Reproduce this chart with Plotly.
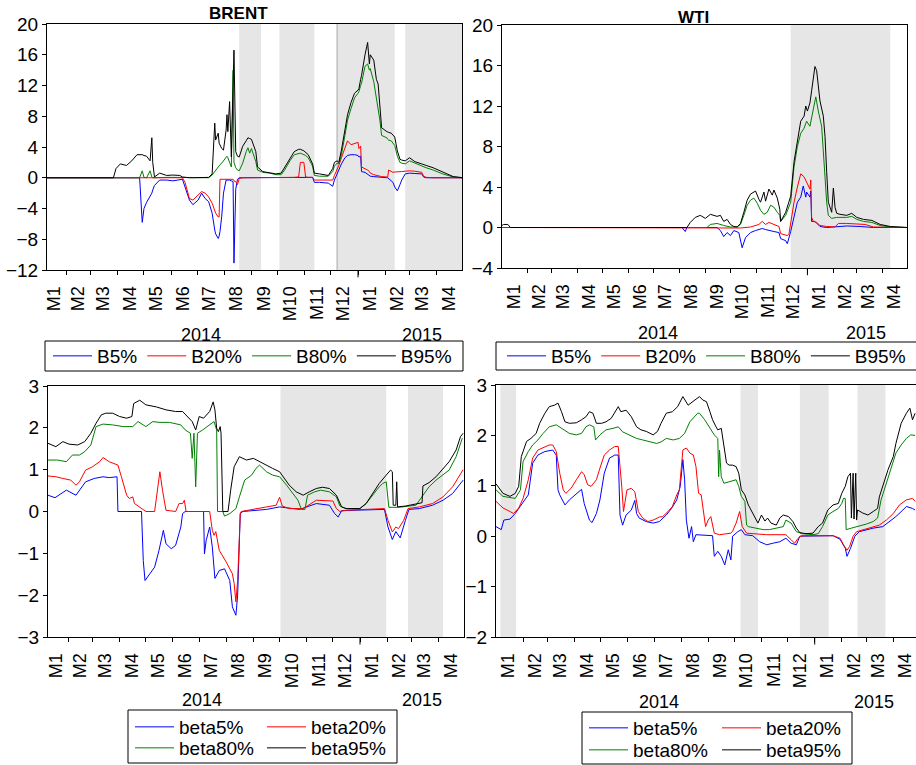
import plotly.graph_objects as go

FONT = "Liberation Sans, Arial, Helvetica, sans-serif"
W, H = 916, 765

# ---------------- tick labels ----------------
MONTH_LABELS = ["M1", "M2", "M3", "M4", "M5", "M6", "M7", "M8", "M9", "M10", "M11", "M12",
                "M1", "M2", "M3", "M4"]
LABEL_DATES = ["2014-01-15", "2014-02-15", "2014-03-15", "2014-04-15", "2014-05-15", "2014-06-15",
               "2014-07-15", "2014-08-15", "2014-09-15", "2014-10-15", "2014-11-15", "2014-12-15",
               "2015-01-15", "2015-02-15", "2015-03-15", "2015-04-15"]
MONTH_STARTS = ["2014-02-01", "2014-03-01", "2014-04-01", "2014-05-01", "2014-06-01", "2014-07-01",
                "2014-08-01", "2014-09-01", "2014-10-01", "2014-11-01", "2014-12-01", "2015-01-01",
                "2015-02-01", "2015-03-01", "2015-04-01", "2015-05-01"]
YEARS = ["2014", "2015"]

# ---------------- BRENT (top-left) ----------------
BRENT_DATES = [
    "2014-01-10", "2014-03-27", "2014-03-30", "2014-04-04", "2014-04-11", "2014-04-17", "2014-04-23", "2014-04-26", "2014-04-29", "2014-05-01",
    "2014-05-04", "2014-05-08", "2014-05-10", "2014-05-11", "2014-05-13", "2014-05-19", "2014-05-27", "2014-06-03", "2014-06-11", "2014-06-14",
    "2014-06-17", "2014-06-22", "2014-06-26", "2014-07-02", "2014-07-06", "2014-07-10", "2014-07-14", "2014-07-18", "2014-07-21", "2014-07-22",
    "2014-07-25", "2014-07-26", "2014-07-27", "2014-07-29", "2014-07-31", "2014-08-03", "2014-08-04", "2014-08-05", "2014-08-07", "2014-08-09",
    "2014-08-11", "2014-08-12", "2014-08-14", "2014-08-16", "2014-08-18", "2014-08-22", "2014-08-26", "2014-08-28", "2014-08-30", "2014-09-01",
    "2014-09-06", "2014-09-08", "2014-09-14", "2014-09-22", "2014-09-29", "2014-10-05", "2014-10-09", "2014-10-15", "2014-10-20", "2014-10-25",
    "2014-10-27", "2014-10-31", "2014-11-02", "2014-11-05", "2014-11-10", "2014-11-12", "2014-11-18", "2014-11-28", "2014-12-03", "2014-12-05",
    "2014-12-08", "2014-12-10", "2014-12-13", "2014-12-17", "2014-12-20", "2014-12-24", "2014-12-28", "2015-01-01", "2015-01-02", "2015-01-04",
    "2015-01-05", "2015-01-09", "2015-01-12", "2015-01-14", "2015-01-15", "2015-01-19", "2015-01-22", "2015-01-24", "2015-01-26", "2015-01-28",
    "2015-02-03", "2015-02-04", "2015-02-05", "2015-02-08", "2015-02-10", "2015-02-12", "2015-02-15", "2015-02-18", "2015-02-20", "2015-02-24",
    "2015-03-01", "2015-03-07", "2015-03-15", "2015-03-17", "2015-03-20", "2015-03-28", "2015-04-08", "2015-04-20", "2015-04-30"]
BRENT_B5 = [
    0, 0, 0, 0, 0, 0, 0, 0, -5.8, -4.0,
    -3.2, -2.4, -2.0, -1.6, -1.0, -0.3, -0.3, -0.4, -0.3, -0.2,
    -1.2, -2.9, -3.5, -2.9, -2.0, -2.7, -3.1, -4.6, -6.8, -7.3,
    -7.9, -7.6, -7.0, -5.0, -2.0, -0.3, -0.3, -0.3, -0.3, -0.4,
    -0.5, -11.1, -1.5, -0.2, 0, 0, 0, 0, 0, 0,
    0, 0, 0, 0, 0, 0, 0, 0, 0.05, 0.05,
    0.05, 0.05, 0.05, 0.05, 0.05, -0.6, -0.6, -0.7, -1.1, -0.3,
    0.5, 1.0, 1.8, 2.6, 2.9, 3.0, 3.0, 2.9, 2.7, 2.8,
    0.8, 0.7, 0.5, 0.35, 0.2, 0.15, 0.1, 0.1, 0.05, 0.05,
    0, 0, -0.1, -0.3, -0.6, -1.2, -1.7, -0.9, -0.3, 0.5,
    0.6, 0.55, 0.5, 0.1, 0, 0, 0, 0, 0]
BRENT_B20 = [
    0, 0, 0, 0, 0, 0, 0, 0, 0, 0,
    0, 0, 0, 0, 0, 0, 0, 0, 0, 0,
    -0.6, -2.7, -2.9, -2.3, -1.8, -2.0, -2.5, -3.3, -4.4, -4.6,
    -5.1, -5.1, -0.2, -0.2, -0.2, -0.2, -0.2, -0.2, -0.2, -0.2,
    -0.2, -0.4, -0.5, -0.9, -0.1, 0, 0, 0, 0, 0,
    0, 0, 0, 0, 0.02, 0.02, 0.02, 0.02, 0.05, 0.1,
    2.0, 2.0, 0.1, 0.05, 0.05, -0.3, -0.3, -0.3, -0.3, 0.3,
    1.0, 1.6, 2.6, 4.0, 4.8, 4.3, 4.5, 4.6, 3.8, 4.1,
    1.4, 1.2, 1.0, 0.8, 0.6, 0.4, 0.3, 0.25, 0.2, 0.15,
    0.1, 0.1, 1.0, 0.8, 0.7, 0.75, 0.8, 0.8, 0.8, 0.85,
    0.9, 0.85, 0.7, 0.2, 0.05, 0, 0, 0, 0]
BRENT_B80 = [
    0, 0, 0, 0, 0, 0, 0, 0, 0.9, 0.05,
    0, 0.9, 0.1, 0, 0, 0.05, 0.05, 0.05, 0.05, 0,
    0, 0, 0, 0, 0, 0, 0, 0.35, 0.8, 1.0,
    1.5, 1.6, 1.7, 1.9, 2.2, 2.6, 2.8, 2.6, 2.0, 1.4,
    14.0, 2.0, 1.3, 1.0, 0.9, 1.9, 3.4, 3.9, 3.2, 3.8,
    2.1, 1.0, 0.7, 0.6, 0.4, 0.4, 1.0, 2.2, 3.0, 3.2,
    3.2, 3.0, 2.9, 2.6, 1.5, 0.3, 0.2, 0.2, 0.8, 1.5,
    1.9, 1.8, 3.0, 5.5, 7.5, 9.0, 10.4, 11.0, 11.2, 12.0,
    12.3, 14.5, 14.8, 14.0, 14.2, 12.5, 10.5, 9.0, 7.5, 5.5,
    5.2, 5.0, 4.9, 4.8, 4.5, 4.2, 2.8, 2.0, 1.9, 1.8,
    2.2, 1.9, 1.6, 1.5, 1.3, 1.0, 0.5, 0.1, 0]
BRENT_B95 = [
    0, 0, 1.2, 1.8, 1.6, 2.2, 3.0, 3.0, 3.0, 2.9,
    2.8, 2.2, 5.2, 2.0, 0.1, 0.6, 0.3, 0.35, 0.3, 0.1,
    0.05, 0, 0, 0, 0, 0, 0.05, 0.5, 7.1, 4.9,
    5.8, 4.5, 4.2, 3.8, 3.6, 6.2, 8.2, 6.0, 9.9, 2.7,
    12.0, 16.6, 3.4, 2.8, 2.7, 4.1, 4.8, 5.2, 5.1, 5.0,
    3.4, 1.4, 0.8, 0.6, 0.5, 0.6, 1.3, 2.5, 3.4, 3.7,
    3.7, 3.5, 3.3, 3.0, 1.8, 0.6, 0.5, 0.3, 1.2, 2.0,
    2.2, 2.0, 3.6, 6.0, 8.2, 9.8, 11.0, 11.4, 11.6, 12.8,
    13.3, 16.0, 17.6, 14.8, 16.0, 15.3, 12.8, 12.2, 9.0, 6.5,
    6.0, 5.9, 5.9, 5.8, 5.5, 5.3, 3.5, 2.4, 2.3, 2.2,
    2.6, 2.1, 1.8, 1.7, 1.6, 1.3, 0.7, 0.15, 0.02]

# ---------------- WTI (top-right) ----------------
WTI_B5 = [("2014-01-01", 0), ("2014-08-04", 0), ("2014-08-08", -0.4), ("2014-08-10", 0), ("2014-09-15", 0),
          ("2014-09-19", -0.3), ("2014-09-23", -0.9), ("2014-09-27", -0.5), ("2014-10-01", -0.8), ("2014-10-05", -0.3),
          ("2014-10-11", -0.5), ("2014-10-15", -2.0), ("2014-10-19", -1.0), ("2014-10-25", -0.5), ("2014-10-31", -0.3),
          ("2014-11-08", -0.1), ("2014-11-12", -0.2), ("2014-11-16", -0.3), ("2014-11-22", -0.4), ("2014-11-28", -0.5),
          ("2014-11-30", -1.1), ("2014-12-06", -1.3), ("2014-12-08", -1.6), ("2014-12-12", -0.4), ("2014-12-16", 1.0),
          ("2014-12-20", 2.5), ("2014-12-24", 3.0), ("2014-12-27", 4.1), ("2014-12-30", 3.0), ("2014-12-31", 3.5),
          ("2015-01-04", 3.0), ("2015-01-05", 3.6), ("2015-01-06", 0.6), ("2015-01-10", 0.6), ("2015-01-16", 0.1),
          ("2015-01-24", 0.0), ("2015-02-09", 0.1), ("2015-02-17", 0.15), ("2015-03-05", 0.1), ("2015-03-21", 0.0),
          ("2015-04-30", 0)]
WTI_B20 = [("2014-01-01", 0), ("2014-10-05", 0), ("2014-10-13", -0.05), ("2014-10-25", 0.05), ("2014-11-04", 0.3),
           ("2014-11-08", 0.6), ("2014-11-12", 0.3), ("2014-11-16", 0.5), ("2014-11-22", 0.3), ("2014-11-28", 0.1),
           ("2014-11-30", -0.6), ("2014-12-08", -0.8), ("2014-12-10", -0.6), ("2014-12-12", 0.5), ("2014-12-16", 2.5),
           ("2014-12-20", 4.0), ("2014-12-24", 5.3), ("2014-12-28", 5.0), ("2014-12-31", 4.5), ("2015-01-04", 3.8),
           ("2015-01-05", 4.7), ("2015-01-06", 1.0), ("2015-01-08", 0.6), ("2015-01-12", 0.5), ("2015-01-16", 0.2),
           ("2015-01-24", 0.1), ("2015-02-03", 0.05), ("2015-02-07", 0.4), ("2015-02-17", 0.4), ("2015-03-01", 0.35),
           ("2015-03-11", 0.3), ("2015-03-21", 0.05), ("2015-04-30", 0)]
WTI_B80 = [("2014-01-01", 0), ("2014-09-03", 0), ("2014-09-07", 0.3), ("2014-09-15", 0.4), ("2014-09-23", 0.2),
           ("2014-10-01", 0.05), ("2014-10-09", 0.05), ("2014-10-13", 0.3), ("2014-10-17", 1.2), ("2014-10-21", 2.2),
           ("2014-10-25", 2.7), ("2014-10-29", 2.9), ("2014-11-02", 2.4), ("2014-11-06", 1.7), ("2014-11-10", 1.3),
           ("2014-11-14", 1.5), ("2014-11-18", 2.2), ("2014-11-22", 2.0), ("2014-11-26", 1.5), ("2014-11-29", 1.2),
           ("2014-11-30", 0.6), ("2014-12-06", 1.2), ("2014-12-12", 2.5), ("2014-12-16", 6.0), ("2014-12-20", 8.0),
           ("2014-12-24", 9.3), ("2014-12-28", 9.8), ("2014-12-31", 10.5), ("2015-01-04", 10.0), ("2015-01-08", 11.5),
           ("2015-01-11", 12.9), ("2015-01-14", 11.5), ("2015-01-18", 10.0), ("2015-01-22", 5.0), ("2015-01-24", 2.5),
           ("2015-01-26", 1.2), ("2015-01-30", 0.9), ("2015-02-05", 1.0), ("2015-02-17", 1.0), ("2015-02-23", 1.1),
           ("2015-03-01", 0.8), ("2015-03-09", 0.6), ("2015-03-19", 0.5), ("2015-03-29", 0.2), ("2015-04-10", 0.05),
           ("2015-04-30", 0)]
WTI_B95 = [("2014-01-01", 0.2), ("2014-01-03", 0.3), ("2014-01-08", 0.3), ("2014-01-11", 0.0), ("2014-08-10", 0.0),
           ("2014-08-14", 0.5), ("2014-08-20", 1.0), ("2014-08-26", 1.2), ("2014-09-01", 0.9), ("2014-09-07", 1.3),
           ("2014-09-15", 1.1), ("2014-09-19", 1.2), ("2014-09-23", 0.6), ("2014-09-27", 0.8), ("2014-10-01", 0.3),
           ("2014-10-05", 0.1), ("2014-10-09", 0.05), ("2014-10-13", 0.4), ("2014-10-17", 1.5), ("2014-10-21", 2.7),
           ("2014-10-25", 3.3), ("2014-10-31", 3.6), ("2014-11-04", 2.8), ("2014-11-06", 2.5), ("2014-11-10", 3.5),
           ("2014-11-12", 2.6), ("2014-11-16", 3.8), ("2014-11-20", 3.2), ("2014-11-22", 3.7), ("2014-11-26", 2.9),
           ("2014-11-29", 1.8), ("2014-11-30", 0.6), ("2014-12-06", 1.5), ("2014-12-10", 2.7), ("2014-12-12", 3.1),
           ("2014-12-16", 6.5), ("2014-12-20", 8.5), ("2014-12-24", 10.5), ("2014-12-28", 11.0), ("2014-12-30", 12.0),
           ("2015-01-01", 11.5), ("2015-01-04", 12.3), ("2015-01-06", 13.5), ("2015-01-10", 15.9), ("2015-01-12", 15.5),
           ("2015-01-14", 14.0), ("2015-01-16", 12.5), ("2015-01-20", 11.0), ("2015-01-22", 9.0), ("2015-01-24", 5.5),
           ("2015-01-26", 2.5), ("2015-01-30", 1.5), ("2015-02-01", 3.9), ("2015-02-03", 2.0), ("2015-02-05", 1.4),
           ("2015-02-09", 1.3), ("2015-02-17", 1.2), ("2015-02-23", 1.4), ("2015-03-01", 1.0), ("2015-03-09", 0.8),
           ("2015-03-19", 0.7), ("2015-03-29", 0.3), ("2015-04-10", 0.1), ("2015-04-30", 0.0)]

# ---------------- BRENT beta (bottom-left) ----------------
BRENT_BETA5 = [("2014-01-09", 0.39), ("2014-01-17", 0.33), ("2014-01-30", 0.51), ("2014-02-10", 0.39), ("2014-02-21", 0.71),
               ("2014-03-03", 0.79), ("2014-03-13", 0.83), ("2014-03-20", 0.81), ("2014-03-29", 0.83), ("2014-03-30", 0.0),
               ("2014-04-26", 0.0), ("2014-04-28", -1.17), ("2014-04-30", -1.65), ("2014-05-05", -1.49), ("2014-05-11", -1.33),
               ("2014-05-16", -0.93), ("2014-05-21", -0.45), ("2014-05-24", -0.77), ("2014-05-30", -0.89), ("2014-06-04", -0.81),
               ("2014-06-10", -0.37), ("2014-06-12", -0.05), ("2014-06-15", 0.0), ("2014-07-06", 0.0), ("2014-07-07", -1.01),
               ("2014-07-09", -0.69), ("2014-07-13", -0.37), ("2014-07-16", -0.85), ("2014-07-19", -1.60), ("2014-07-24", -1.41),
               ("2014-07-30", -1.37), ("2014-08-05", -1.65), ("2014-08-08", -2.28), ("2014-08-12", -2.48), ("2014-08-14", -2.0),
               ("2014-08-17", -0.05), ("2014-08-20", 0.0), ("2014-09-16", 0.05), ("2014-10-01", 0.11), ("2014-10-24", 0.05),
               ("2014-11-12", 0.19), ("2014-11-27", 0.15), ("2014-12-03", -0.05), ("2014-12-07", -0.13), ("2014-12-11", 0.02),
               ("2014-12-24", 0.03), ("2015-01-29", 0.05), ("2015-02-02", -0.37), ("2015-02-07", -0.67), ("2015-02-11", -0.48),
               ("2015-02-16", -0.63), ("2015-02-22", -0.21), ("2015-02-26", 0.05), ("2015-03-10", 0.07), ("2015-03-25", 0.15),
               ("2015-04-06", 0.27), ("2015-04-17", 0.43), ("2015-04-29", 0.75)]
BRENT_BETA20 = [("2014-01-09", 0.85), ("2014-01-18", 0.83), ("2014-01-26", 0.79), ("2014-02-04", 0.75), ("2014-02-10", 0.63),
                ("2014-02-14", 0.71), ("2014-02-21", 0.99), ("2014-03-01", 1.07), ("2014-03-09", 1.19), ("2014-03-13", 1.29),
                ("2014-03-20", 1.19), ("2014-03-30", 1.11), ("2014-04-03", 0.83), ("2014-04-09", 0.39), ("2014-04-12", 0.31),
                ("2014-04-16", 0.35), ("2014-04-18", 0.19), ("2014-04-26", 0.07), ("2014-05-01", 0.0), ("2014-05-11", 0.0),
                ("2014-05-14", 0.51), ("2014-05-17", 0.95), ("2014-05-20", 0.51), ("2014-05-24", 0.03), ("2014-06-04", 0.0),
                ("2014-06-08", 0.19), ("2014-06-12", 0.19), ("2014-06-14", 0.27), ("2014-06-16", 0.0), ("2014-07-13", 0.0),
                ("2014-07-16", -0.45), ("2014-07-18", -0.57), ("2014-07-20", -0.48), ("2014-07-24", -0.93), ("2014-08-01", -1.21),
                ("2014-08-08", -1.49), ("2014-08-10", -1.72), ("2014-08-12", -2.16), ("2014-08-14", -1.65), ("2014-08-17", -0.05),
                ("2014-08-18", 0.0), ("2014-09-08", 0.07), ("2014-09-27", 0.15), ("2014-10-01", 0.34), ("2014-10-04", 0.13),
                ("2014-10-12", 0.07), ("2014-10-28", 0.07), ("2014-11-12", 0.27), ("2014-12-01", 0.25), ("2014-12-05", 0.07),
                ("2014-12-09", 0.0), ("2014-12-16", 0.03), ("2015-01-08", 0.05), ("2015-01-29", 0.07), ("2015-02-02", -0.21),
                ("2015-02-07", -0.49), ("2015-02-11", -0.37), ("2015-02-14", -0.41), ("2015-02-20", -0.21), ("2015-02-25", 0.07),
                ("2015-03-10", 0.11), ("2015-03-25", 0.19), ("2015-04-06", 0.35), ("2015-04-17", 0.59), ("2015-04-29", 1.0)]
BRENT_BETA80 = [("2014-01-09", 1.23), ("2014-01-20", 1.23), ("2014-01-30", 1.19), ("2014-02-06", 1.35), ("2014-02-14", 1.35),
                ("2014-02-20", 1.43), ("2014-02-27", 1.59), ("2014-03-05", 2.03), ("2014-03-13", 2.09), ("2014-03-24", 2.07),
                ("2014-04-05", 2.03), ("2014-04-16", 2.03), ("2014-04-22", 2.15), ("2014-05-01", 2.03), ("2014-05-09", 2.15),
                ("2014-05-16", 2.13), ("2014-05-28", 2.13), ("2014-06-10", 2.07), ("2014-06-15", 1.95), ("2014-06-21", 1.87),
                ("2014-06-23", 1.27), ("2014-06-25", 1.87), ("2014-06-27", 0.59), ("2014-06-29", 1.87), ("2014-07-05", 1.95),
                ("2014-07-13", 2.07), ("2014-07-18", 2.15), ("2014-07-21", 1.95), ("2014-07-22", 0.0), ("2014-07-28", 0.0),
                ("2014-07-30", -0.11), ("2014-08-05", -0.05), ("2014-08-12", 0.07), ("2014-08-16", 0.35), ("2014-08-22", 0.75),
                ("2014-08-30", 0.87), ("2014-09-04", 1.03), ("2014-09-08", 1.11), ("2014-09-16", 0.95), ("2014-09-23", 0.87),
                ("2014-10-01", 0.83), ("2014-10-09", 0.63), ("2014-10-16", 0.43), ("2014-10-22", 0.27), ("2014-10-26", 0.05),
                ("2014-10-30", 0.05), ("2014-11-02", 0.39), ("2014-11-10", 0.47), ("2014-11-17", 0.51), ("2014-11-27", 0.47),
                ("2014-12-05", 0.35), ("2014-12-09", 0.13), ("2014-12-16", 0.07), ("2014-12-31", 0.06), ("2015-01-08", 0.19),
                ("2015-01-15", 0.39), ("2015-01-23", 0.59), ("2015-01-27", 0.67), ("2015-01-31", 0.71), ("2015-02-03", 0.10),
                ("2015-02-14", 0.10), ("2015-03-06", 0.15), ("2015-03-16", 0.43), ("2015-03-21", 0.59), ("2015-03-29", 0.75),
                ("2015-04-06", 0.87), ("2015-04-13", 0.99), ("2015-04-21", 1.31), ("2015-04-28", 1.75)]
BRENT_BETA95 = [("2014-01-09", 1.63), ("2014-01-18", 1.55), ("2014-01-26", 1.67), ("2014-02-02", 1.61), ("2014-02-12", 1.59),
                ("2014-02-20", 1.67), ("2014-02-27", 1.87), ("2014-03-05", 2.11), ("2014-03-11", 2.31), ("2014-03-16", 2.35),
                ("2014-03-24", 2.35), ("2014-04-01", 2.27), ("2014-04-09", 2.23), ("2014-04-15", 2.27), ("2014-04-17", 2.58),
                ("2014-04-24", 2.66), ("2014-05-01", 2.55), ("2014-05-13", 2.50), ("2014-05-24", 2.43), ("2014-06-04", 2.39),
                ("2014-06-12", 2.39), ("2014-06-17", 2.27), ("2014-06-23", 2.15), ("2014-06-27", 1.95), ("2014-07-01", 2.27),
                ("2014-07-06", 2.23), ("2014-07-13", 2.39), ("2014-07-17", 2.62), ("2014-07-19", 2.43), ("2014-07-21", 1.99),
                ("2014-07-23", 1.91), ("2014-07-25", 2.03), ("2014-07-26", 1.87), ("2014-07-28", 0.0), ("2014-08-03", 0.0),
                ("2014-08-06", 0.51), ("2014-08-10", 1.07), ("2014-08-16", 1.31), ("2014-08-24", 1.23), ("2014-09-01", 1.27),
                ("2014-09-08", 1.19), ("2014-09-16", 1.11), ("2014-09-23", 1.03), ("2014-10-01", 0.95), ("2014-10-05", 0.83),
                ("2014-10-12", 0.63), ("2014-10-20", 0.47), ("2014-10-28", 0.39), ("2014-11-04", 0.47), ("2014-11-12", 0.55),
                ("2014-11-19", 0.58), ("2014-11-27", 0.55), ("2014-12-05", 0.39), ("2014-12-11", 0.11), ("2014-12-16", 0.07),
                ("2015-01-01", 0.07), ("2015-01-08", 0.19), ("2015-01-15", 0.43), ("2015-01-23", 0.67), ("2015-01-31", 0.87),
                ("2015-02-05", 0.99), ("2015-02-07", 0.95), ("2015-02-08", 0.15), ("2015-02-11", 0.15), ("2015-02-12", 0.71),
                ("2015-02-13", 0.11), ("2015-02-22", 0.13), ("2015-03-06", 0.18), ("2015-03-13", 0.21), ("2015-03-14", 0.61),
                ("2015-03-21", 0.69), ("2015-03-29", 0.83), ("2015-04-06", 1.03), ("2015-04-13", 1.19), ("2015-04-21", 1.47),
                ("2015-04-26", 1.79), ("2015-04-29", 1.87)]

# ---------------- WTI beta (bottom-right) ----------------
WTI_BETA5 = [("2014-01-01", 0.19), ("2014-01-07", 0.13), ("2014-01-10", 0.32), ("2014-01-17", 0.34), ("2014-01-23", 0.45),
             ("2014-01-30", 0.62), ("2014-02-07", 0.82), ("2014-02-12", 1.45), ("2014-02-18", 1.61), ("2014-02-26", 1.68),
             ("2014-03-07", 1.71), ("2014-03-11", 1.61), ("2014-03-13", 0.92), ("2014-03-15", 0.82), ("2014-03-21", 0.62),
             ("2014-03-26", 0.72), ("2014-04-03", 0.85), ("2014-04-09", 0.93), ("2014-04-12", 0.65), ("2014-04-18", 0.32),
             ("2014-04-21", 0.27), ("2014-04-26", 0.45), ("2014-04-30", 0.72), ("2014-05-05", 1.25), ("2014-05-11", 1.55),
             ("2014-05-17", 1.61), ("2014-05-21", 1.61), ("2014-05-23", 0.42), ("2014-05-26", 0.22), ("2014-05-30", 0.42),
             ("2014-06-05", 0.52), ("2014-06-09", 0.71), ("2014-06-11", 0.45), ("2014-06-14", 0.36), ("2014-06-22", 0.29),
             ("2014-06-30", 0.26), ("2014-07-07", 0.29), ("2014-07-15", 0.42), ("2014-07-21", 0.55), ("2014-07-27", 0.72),
             ("2014-07-31", 0.99), ("2014-08-03", 1.52), ("2014-08-05", 1.12), ("2014-08-07", 0.32), ("2014-08-10", -0.04),
             ("2014-08-13", 0.19), ("2014-08-15", -0.11), ("2014-08-18", 0.03), ("2014-09-06", 0.01), ("2014-09-08", -0.40),
             ("2014-09-12", -0.30), ("2014-09-16", -0.40), ("2014-09-20", -0.57), ("2014-09-24", -0.27), ("2014-09-27", -0.47),
             ("2014-09-29", 0.0), ("2014-10-05", 0.09), ("2014-10-09", 0.13), ("2014-10-13", 0.03), ("2014-10-22", 0.01),
             ("2014-10-30", -0.11), ("2014-11-07", -0.17), ("2014-11-14", -0.14), ("2014-11-22", -0.11), ("2014-11-29", -0.04),
             ("2014-12-05", -0.14), ("2014-12-11", -0.17), ("2014-12-15", 0.0), ("2015-01-22", 0.01), ("2015-01-30", -0.06),
             ("2015-02-05", -0.24), ("2015-02-07", -0.40), ("2015-02-11", -0.24), ("2015-02-16", 0.0), ("2015-02-21", 0.09),
             ("2015-03-09", 0.16), ("2015-03-20", 0.19), ("2015-03-28", 0.29), ("2015-04-04", 0.39), ("2015-04-12", 0.52),
             ("2015-04-16", 0.59), ("2015-04-23", 0.55), ("2015-04-26", 0.52)]
WTI_BETA20 = [("2014-01-01", 0.69), ("2014-01-09", 0.56), ("2014-01-17", 0.49), ("2014-01-21", 0.45), ("2014-01-27", 0.56),
              ("2014-02-01", 0.75), ("2014-02-07", 1.12), ("2014-02-12", 1.55), ("2014-02-18", 1.71), ("2014-02-24", 1.75),
              ("2014-03-03", 1.81), ("2014-03-07", 1.81), ("2014-03-11", 1.68), ("2014-03-15", 1.25), ("2014-03-19", 0.92),
              ("2014-03-22", 0.85), ("2014-03-28", 0.95), ("2014-04-03", 1.12), ("2014-04-09", 1.28), ("2014-04-12", 1.22),
              ("2014-04-16", 1.02), ("2014-04-20", 0.99), ("2014-04-26", 1.12), ("2014-04-30", 1.35), ("2014-05-05", 1.61),
              ("2014-05-11", 1.71), ("2014-05-17", 1.78), ("2014-05-21", 1.78), ("2014-05-23", 1.42), ("2014-05-25", 0.99),
              ("2014-05-27", 0.49), ("2014-05-31", 0.92), ("2014-06-05", 0.95), ("2014-06-09", 0.88), ("2014-06-13", 0.49),
              ("2014-06-18", 0.36), ("2014-06-24", 0.29), ("2014-06-30", 0.32), ("2014-07-07", 0.38), ("2014-07-11", 0.39),
              ("2014-07-17", 0.49), ("2014-07-22", 0.59), ("2014-07-27", 0.82), ("2014-07-30", 0.92), ("2014-08-03", 1.71),
              ("2014-08-07", 1.75), ("2014-08-11", 1.65), ("2014-08-15", 1.61), ("2014-08-18", 1.38), ("2014-08-21", 0.85),
              ("2014-08-24", 0.82), ("2014-08-26", 0.60), ("2014-08-29", 0.19), ("2014-09-01", 0.32), ("2014-09-04", 0.39),
              ("2014-09-08", 0.06), ("2014-09-14", 0.03), ("2014-09-27", 0.06), ("2014-09-29", 0.10), ("2014-10-03", 0.26),
              ("2014-10-07", 0.49), ("2014-10-10", 0.19), ("2014-10-15", 0.06), ("2014-11-07", 0.03), ("2014-11-29", 0.03),
              ("2014-12-05", -0.07), ("2014-12-09", -0.14), ("2014-12-13", -0.04), ("2014-12-17", 0.01), ("2015-01-22", 0.01),
              ("2015-01-30", -0.04), ("2015-02-03", -0.17), ("2015-02-07", -0.28), ("2015-02-10", -0.20), ("2015-02-14", 0.0),
              ("2015-02-18", 0.09), ("2015-03-01", 0.14), ("2015-03-16", 0.22), ("2015-03-24", 0.32), ("2015-04-01", 0.45),
              ("2015-04-08", 0.62), ("2015-04-16", 0.72), ("2015-04-23", 0.75), ("2015-04-26", 0.69)]
WTI_BETA80 = [("2014-01-01", 0.92), ("2014-01-09", 0.79), ("2014-01-23", 0.75), ("2014-01-29", 0.92), ("2014-02-01", 1.48),
              ("2014-02-07", 1.68), ("2014-02-12", 1.81), ("2014-02-18", 1.91), ("2014-02-24", 2.04), ("2014-03-03", 2.17),
              ("2014-03-11", 2.21), ("2014-03-19", 2.11), ("2014-03-26", 2.04), ("2014-04-03", 2.01), ("2014-04-09", 2.04),
              ("2014-04-14", 2.17), ("2014-04-18", 2.21), ("2014-04-23", 2.17), ("2014-04-25", 1.91), ("2014-04-30", 2.01),
              ("2014-05-07", 2.11), ("2014-05-15", 2.14), ("2014-05-21", 2.17), ("2014-05-26", 2.07), ("2014-06-03", 2.01),
              ("2014-06-11", 1.94), ("2014-06-18", 1.91), ("2014-06-26", 1.88), ("2014-07-04", 1.84), ("2014-07-09", 1.87),
              ("2014-07-15", 1.94), ("2014-07-23", 1.91), ("2014-07-30", 1.94), ("2014-08-05", 2.04), ("2014-08-11", 2.27),
              ("2014-08-20", 2.44), ("2014-08-22", 2.44), ("2014-08-28", 2.31), ("2014-09-03", 2.14), ("2014-09-08", 2.01),
              ("2014-09-12", 1.94), ("2014-09-13", 1.18), ("2014-09-14", 1.71), ("2014-09-16", 1.18), ("2014-09-19", 1.05),
              ("2014-09-25", 1.08), ("2014-10-03", 1.12), ("2014-10-06", 0.99), ("2014-10-09", 0.79), ("2014-10-13", 0.69),
              ("2014-10-15", 0.22), ("2014-10-17", 0.19), ("2014-10-26", 0.16), ("2014-11-03", 0.13), ("2014-11-10", 0.13),
              ("2014-11-18", 0.16), ("2014-11-26", 0.19), ("2014-11-29", 0.32), ("2014-12-05", 0.26), ("2014-12-11", 0.09),
              ("2014-12-18", 0.05), ("2014-12-30", 0.03), ("2015-01-05", 0.05), ("2015-01-10", 0.19), ("2015-01-16", 0.42),
              ("2015-01-22", 0.49), ("2015-01-28", 0.55), ("2015-02-01", 0.65), ("2015-02-03", 0.75), ("2015-02-05", 0.75),
              ("2015-02-06", 0.13), ("2015-02-12", 0.16), ("2015-02-19", 0.19), ("2015-03-01", 0.24), ("2015-03-09", 0.29),
              ("2015-03-14", 0.36), ("2015-03-18", 0.72), ("2015-03-24", 1.05), ("2015-03-30", 1.38), ("2015-04-04", 1.65),
              ("2015-04-10", 1.81), ("2015-04-16", 1.94), ("2015-04-21", 2.01), ("2015-04-26", 2.00)]
WTI_BETA95 = [("2014-01-01", 1.04), ("2014-01-09", 0.85), ("2014-01-17", 0.79), ("2014-01-23", 0.85), ("2014-01-27", 0.99),
              ("2014-01-30", 1.58), ("2014-02-05", 1.88), ("2014-02-10", 1.94), ("2014-02-16", 2.04), ("2014-02-20", 2.24),
              ("2014-02-26", 2.44), ("2014-03-03", 2.57), ("2014-03-09", 2.60), ("2014-03-13", 2.64), ("2014-03-17", 2.47),
              ("2014-03-21", 2.27), ("2014-03-26", 2.24), ("2014-04-03", 2.25), ("2014-04-09", 2.31), ("2014-04-14", 2.37),
              ("2014-04-18", 2.47), ("2014-04-22", 2.44), ("2014-04-26", 2.24), ("2014-05-02", 2.24), ("2014-05-07", 2.27),
              ("2014-05-13", 2.34), ("2014-05-21", 2.57), ("2014-05-24", 2.47), ("2014-05-30", 2.50), ("2014-06-05", 2.37),
              ("2014-06-11", 2.17), ("2014-06-16", 2.11), ("2014-06-22", 2.08), ("2014-06-30", 2.01), ("2014-07-05", 2.08),
              ("2014-07-09", 2.24), ("2014-07-15", 2.44), ("2014-07-22", 2.47), ("2014-07-28", 2.57), ("2014-08-03", 2.77),
              ("2014-08-09", 2.60), ("2014-08-16", 2.70), ("2014-08-22", 2.77), ("2014-08-26", 2.70), ("2014-08-30", 2.67),
              ("2014-09-03", 2.47), ("2014-09-06", 2.31), ("2014-09-10", 2.17), ("2014-09-12", 2.11), ("2014-09-16", 2.14),
              ("2014-09-18", 1.88), ("2014-09-20", 1.71), ("2014-09-22", 1.45), ("2014-09-25", 1.41), ("2014-09-29", 1.41),
              ("2014-10-03", 1.38), ("2014-10-06", 1.25), ("2014-10-09", 0.92), ("2014-10-13", 0.82), ("2014-10-17", 0.62),
              ("2014-10-22", 0.46), ("2014-10-28", 0.26), ("2014-11-01", 0.42), ("2014-11-05", 0.30), ("2014-11-08", 0.36),
              ("2014-11-12", 0.26), ("2014-11-18", 0.22), ("2014-11-22", 0.36), ("2014-11-26", 0.42), ("2014-12-02", 0.39),
              ("2014-12-07", 0.29), ("2014-12-11", 0.16), ("2014-12-15", 0.07), ("2014-12-22", 0.05), ("2014-12-30", 0.06),
              ("2015-01-05", 0.19), ("2015-01-10", 0.26), ("2015-01-16", 0.52), ("2015-01-22", 0.62), ("2015-01-28", 0.65),
              ("2015-02-01", 0.85), ("2015-02-05", 0.99), ("2015-02-08", 1.18), ("2015-02-11", 1.25), ("2015-02-12", 0.36),
              ("2015-02-14", 1.25), ("2015-02-15", 0.34), ("2015-02-17", 1.25), ("2015-02-18", 0.32), ("2015-02-19", 0.52),
              ("2015-02-25", 0.46), ("2015-03-03", 0.42), ("2015-03-09", 0.49), ("2015-03-14", 0.55), ("2015-03-16", 0.78),
              ("2015-03-20", 0.99), ("2015-03-26", 1.32), ("2015-04-01", 1.58), ("2015-04-04", 1.84), ("2015-04-10", 2.24),
              ("2015-04-16", 2.44), ("2015-04-20", 2.54), ("2015-04-23", 2.31), ("2015-04-26", 2.44)]

# ---------------- shaded periods ----------------
BRENT_TOP_SHADE = [("2014-08-18", "2014-09-12"), ("2014-10-03", "2014-11-12"),
                   ("2014-12-08", "2015-02-12"), ("2015-02-24", "2015-04-30")]
WTI_TOP_SHADE = [("2014-12-12", "2015-04-10")]
BRENT_BOTTOM_SHADE = [("2014-10-02", "2015-01-31"), ("2015-02-25", "2015-04-06")]
WTI_BOTTOM_SHADE = [("2014-01-06", "2014-01-24"), ("2014-10-08", "2014-10-28"),
                    ("2014-12-15", "2015-01-17"), ("2015-02-19", "2015-03-23")]

BLUE, RED, GREEN, BLACK = "#0000FF", "#FF0000", "#008000", "#000000"
SHADE = "#E6E6E6"

fig = go.Figure()


def unzip(pairs):
    return [p[0] for p in pairs], [p[1] for p in pairs]


def add(x, y, name, color, n, legend):
    fig.add_trace(go.Scatter(
        x=x, y=y, name=name, mode="lines", line=dict(color=color, width=1),
        xaxis="x" if n == 1 else "x%d" % n, yaxis="y" if n == 1 else "y%d" % n,
        legend=legend, hoverinfo="skip"))


# panel 1
for name, vals, col in [("B5%", BRENT_B5, BLUE), ("B20%", BRENT_B20, RED),
                        ("B80%", BRENT_B80, GREEN), ("B95%", BRENT_B95, BLACK)]:
    add(BRENT_DATES, vals, name, col, 1, "legend")
# panel 2
for name, pairs, col in [("B5%", WTI_B5, BLUE), ("B20%", WTI_B20, RED),
                         ("B80%", WTI_B80, GREEN), ("B95%", WTI_B95, BLACK)]:
    x, y = unzip(pairs)
    add(x, y, name, col, 2, "legend2")
# panel 3
for name, pairs, col, lg in [("beta5%", BRENT_BETA5, BLUE, "legend3"), ("beta20%", BRENT_BETA20, RED, "legend3"),
                             ("beta80%", BRENT_BETA80, GREEN, "legend4"), ("beta95%", BRENT_BETA95, BLACK, "legend4")]:
    x, y = unzip(pairs)
    add(x, y, name, col, 3, lg)
# panel 4
for name, pairs, col, lg in [("beta5%", WTI_BETA5, BLUE, "legend5"), ("beta20%", WTI_BETA20, RED, "legend5"),
                             ("beta80%", WTI_BETA80, GREEN, "legend6"), ("beta95%", WTI_BETA95, BLACK, "legend6")]:
    x, y = unzip(pairs)
    add(x, y, name, col, 4, lg)


def dx(a, b):
    return [a / W, b / W]


def dy(top, bottom):
    return [1 - bottom / H, 1 - top / H]


def xaxis(dom, rng, anchor, first_label):
    tv = [first_label] + LABEL_DATES[1:]
    return dict(domain=dom, range=rng, type="date", anchor=anchor,
                showline=True, linecolor="black", linewidth=1, mirror=True,
                showgrid=False, zeroline=False,
                tickmode="array", tickvals=tv, ticktext=MONTH_LABELS, tickangle=-90,
                ticks="", ticklabelstandoff=8,
                tickfont=dict(size=18, color="black", family=FONT),
                minor=dict(tickmode="array", tickvals=MONTH_STARTS, ticks="outside",
                           ticklen=4, tickwidth=1, tickcolor="black", showgrid=False))


def yaxis(dom, rng, dtick, anchor, mirror=True):
    return dict(domain=dom, range=rng, anchor=anchor, showline=True, linecolor="black",
                linewidth=1, mirror=mirror, showgrid=False, zeroline=False,
                tickmode="linear", tick0=rng[0], dtick=dtick, ticks="outside", ticklen=4,
                tickcolor="black", tickfont=dict(size=19, color="black", family=FONT))


def hleg(xp, yp, ew=None):
    d = dict(orientation="h", x=xp / W, y=1 - yp / H, xanchor="left", yanchor="middle",
             bgcolor="rgba(0,0,0,0)", borderwidth=0, itemwidth=39, traceorder="normal",
             font=dict(size=19, color="black", family=FONT))
    if ew:
        d.update(entrywidth=ew, entrywidthmode="pixels")
    return d


fig.update_layout(
    width=W, height=H, paper_bgcolor="white", plot_bgcolor="white",
    margin=dict(l=0, r=0, t=0, b=0, autoexpand=False),
    font=dict(family=FONT, color="black"),
    showlegend=True,
    xaxis=xaxis(dx(47, 462), ["2014-01-10", "2015-04-30"], "y", "2014-01-18"),
    yaxis=yaxis(dy(24, 270), [-12, 20], 4, "x"),
    xaxis2=xaxis(dx(502, 907), ["2014-01-01", "2015-04-30"], "y2", "2014-01-15"),
    yaxis2=yaxis(dy(25, 268), [-4, 20], 4, "x2"),
    xaxis3=xaxis(dx(48, 464), ["2014-01-09", "2015-04-30"], "y3", "2014-01-18"),
    yaxis3=yaxis(dy(386, 637), [-3, 3], 1, "x3"),
    xaxis4=xaxis(dx(496, 916), ["2014-01-01", "2015-04-27"], "y4", "2014-01-15"),
    yaxis4=yaxis(dy(385, 637), [-2, 3], 1, "x4", mirror=False),
    legend=hleg(48, 356),
    legend2=hleg(502, 356),
    legend3=hleg(130, 727, 78),
    legend4=hleg(130, 748, 78),
    legend5=hleg(584, 728, 79),
    legend6=hleg(584, 750, 79),
)

shapes = []
for n, periods in [(1, BRENT_TOP_SHADE), (2, WTI_TOP_SHADE), (3, BRENT_BOTTOM_SHADE), (4, WTI_BOTTOM_SHADE)]:
    xr = "x" if n == 1 else "x%d" % n
    yr = "y domain" if n == 1 else "y%d domain" % n
    for a, b in periods:
        shapes.append(dict(type="rect", xref=xr, yref=yr, x0=a, x1=b, y0=0, y1=1,
                           fillcolor=SHADE, line=dict(width=0), layer="below"))
    # longer tick at the year boundary
    shapes.append(dict(type="line", xref=xr, yref=yr, x0="2015-01-01", x1="2015-01-01",
                       y0=0, y1=-0.03, line=dict(color="black", width=1)))
shapes.append(dict(type="line", xref="x", yref="y domain", x0="2014-12-08", x1="2014-12-08",
                   y0=0, y1=1, line=dict(color="#A8A8A8", width=1), layer="below"))
# legend frames
for (x0, y0, x1, y1) in [(45, 341, 463, 371), (496, 342, 940, 370), (128, 710, 397, 763), (582, 712, 852, 764)]:
    shapes.append(dict(type="rect", xref="paper", yref="paper", x0=x0 / W, x1=x1 / W,
                       y0=1 - y1 / H, y1=1 - y0 / H, line=dict(color="black", width=1),
                       fillcolor="rgba(0,0,0,0)"))
fig.update_layout(shapes=shapes)

ann = [
    dict(text="<b>BRENT</b>", x=238 / W, y=1 - 13 / H, font=dict(size=17)),
    dict(text="<b>WTI</b>", x=693 / W, y=1 - 17 / H, font=dict(size=17)),
]
for (x1, y1, x2, y2) in [(201, 335, 422, 335), (658, 333, 866, 333), (202, 700, 422, 700), (659, 702, 874, 702)]:
    ann.append(dict(text=YEARS[0], x=x1 / W, y=1 - y1 / H, font=dict(size=18)))
    ann.append(dict(text=YEARS[1], x=x2 / W, y=1 - y2 / H, font=dict(size=18)))
for a in ann:
    a.update(xref="paper", yref="paper", showarrow=False, xanchor="center", yanchor="middle")
    a["font"].update(family=FONT, color="black")
fig.update_layout(annotations=ann)

fig.write_html("out.html", config={"displayModeBar": False},
               post_script="document.body.style.margin='0';document.body.style.overflow='hidden';")
